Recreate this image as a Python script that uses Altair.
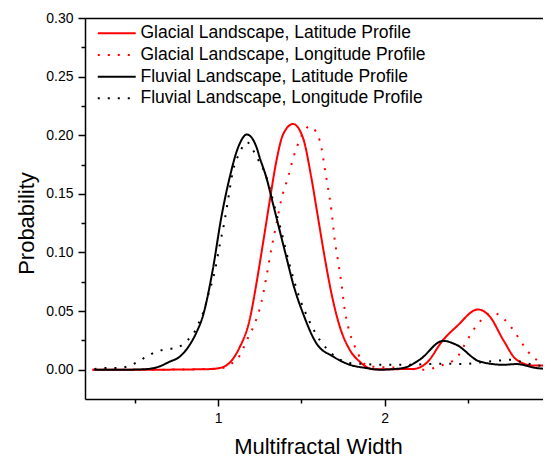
import altair as alt
import pandas as pd

series_names = [
    "Glacial Landscape, Latitude Profile",
    "Glacial Landscape, Longitude Profile",
    "Fluvial Landscape, Latitude Profile",
    "Fluvial Landscape, Longitude Profile",
]
series_colors = ["#ff0000", "#ff0000", "#000000", "#000000"]
series_dashes = [[1, 0], [2, 8], [1, 0], [2, 8]]

gl_lat_x = [0.245, 0.600, 0.949, 1.009, 1.079, 1.129, 1.189, 1.230, 1.269, 1.310, 1.350, 1.390, 1.450,
            1.510, 1.560, 1.600, 1.640, 1.681, 1.731, 1.791, 1.851, 1.931, 2.171, 2.252, 2.352, 2.432,
            2.562, 2.633, 2.713, 2.793, 2.893, 2.999]
gl_lat_y = [0.0, 0.0, 0.0005, 0.0014, 0.0075, 0.019, 0.0424, 0.0735, 0.1074, 0.1441, 0.1780, 0.2006, 0.2096,
            0.1977, 0.1638, 0.1299, 0.0960, 0.0650, 0.0367, 0.0169, 0.0068, 0.0004, 0.0006, 0.0057, 0.0254, 0.0367,
            0.0514, 0.0452, 0.0254, 0.0085, 0.0036, 0.0036]

gl_lon_x = [0.245, 0.600, 1.009, 1.069, 1.129, 1.179, 1.219, 1.260, 1.290, 1.320, 1.350, 1.380, 1.420, 1.450,
            1.490, 1.550, 1.600, 1.621, 1.640, 1.660, 1.681, 1.701, 1.720, 1.741, 1.761, 1.781, 1.821, 1.861,
            1.901, 1.931, 2.111, 2.232, 2.352, 2.432, 2.472, 2.548, 2.652, 2.713, 2.773, 2.813, 2.853, 2.913,
            2.973, 2.999]
gl_lon_y = [0.0, 0.0, 0.001, 0.0042, 0.0119, 0.0271, 0.0390, 0.0576, 0.0791, 0.1031, 0.1243, 0.1455, 0.1640, 0.1800,
            0.1960, 0.2075, 0.1995, 0.1892, 0.1723, 0.1553, 0.1356, 0.1102, 0.0932, 0.0735, 0.0508, 0.0367, 0.0198, 0.0085,
            0.0028, 0.0025, 0.0014, 0.0, 0.0042, 0.0099, 0.0191, 0.0367, 0.0486, 0.0438, 0.0339, 0.0254, 0.0169, 0.0085,
            0.0042, 0.0036]

fl_lat_x = [0.257, 0.450, 0.558, 0.648, 0.708, 0.768, 0.829, 0.871, 0.907, 0.967, 1.019, 1.069, 1.119, 1.173,
            1.230, 1.250, 1.290, 1.330, 1.370, 1.410, 1.450, 1.510, 1.590, 1.690, 1.791, 1.891, 1.971, 2.111,
            2.211, 2.352, 2.432, 2.572, 2.713, 2.793, 2.913, 2.999]
fl_lat_y = [0.0, 0.0, 0.0004, 0.0028, 0.0068, 0.0110, 0.0212, 0.0322, 0.0452, 0.0847, 0.1299, 0.1638, 0.1892, 0.2006,
            0.1900, 0.1808, 0.1638, 0.1413, 0.1186, 0.0960, 0.0735, 0.0480, 0.0226, 0.0113, 0.0042, 0.0014, 0.0, 0.0014,
            0.0085, 0.0246, 0.0212, 0.0070, 0.0042, 0.0048, 0.0014, 0.0006]

fl_lon_x = [0.257, 0.317, 0.377, 0.442, 0.504, 0.566, 0.630, 0.695, 0.756, 0.818, 0.865, 0.895, 0.919, 0.937,
            0.979, 1.009, 1.039, 1.057, 1.087, 1.129, 1.173, 1.219, 1.250, 1.280, 1.320, 1.350, 1.380, 1.400,
            1.430, 1.450, 1.490, 1.540, 1.610, 1.660, 1.791, 1.851, 1.971, 2.111, 2.352, 2.470, 2.592, 2.673,
            2.753, 2.872, 2.974]
fl_lon_y = [0.0006, 0.0014, 0.0014, 0.0023, 0.0057, 0.0108, 0.0155, 0.0175, 0.0189, 0.0254, 0.0339, 0.0438, 0.0523, 0.0621,
            0.0833, 0.1059, 0.1271, 0.1426, 0.1681, 0.1850, 0.1940, 0.1850, 0.1765, 0.1681, 0.1497, 0.1330, 0.1180, 0.1060,
            0.0890, 0.0790, 0.0608, 0.0438, 0.0254, 0.0169, 0.0057, 0.0051, 0.0042, 0.0042, 0.0051, 0.0048, 0.0065, 0.0076,
            0.0085, 0.0048, 0.0025]

x_major = [1, 2, 3]
x_minor = [0.5, 1.5, 2.5]
y_major = [0.0, 0.05, 0.10, 0.15, 0.20, 0.25, 0.30]
y_minor = [0.025, 0.075, 0.125, 0.175, 0.225, 0.275]

rows = []
for name, xs, ys in [
    (series_names[0], gl_lat_x, gl_lat_y),
    (series_names[1], gl_lon_x, gl_lon_y),
    (series_names[2], fl_lat_x, fl_lat_y),
    (series_names[3], fl_lon_x, fl_lon_y),
]:
    for i, (xv, yv) in enumerate(zip(xs, ys)):
        rows.append({"series": name, "x": xv, "y": yv, "i": i})
df = pd.DataFrame(rows)

FONT = "Liberation Sans, Arial"
# visible part of the x range: the reference is cut at the right page edge
xscale = alt.Scale(domain=[0.2, 2.952], nice=False, zero=False)
yscale = alt.Scale(domain=[-0.025, 0.30], nice=False, zero=False)

common_axis = dict(grid=False, domainColor="black", tickColor="black", labelColor="black",
                   titleColor="black", domainWidth=1.5, tickWidth=1.5, labelFont=FONT, titleFont=FONT,
                   labelFontSize=14, titleFontSize=22, titleFontWeight="normal")

legend = alt.Legend(title=None, orient="none", legendX=23, legendY=6.5, symbolType="M-4,0H4",
                    symbolSize=90, symbolStrokeWidth=2, labelFontSize=17.5, labelFont=FONT,
                    labelColor="black", labelOffset=15, rowPadding=2.7, padding=0, labelLimit=400)

lines = alt.Chart(df).mark_line(strokeWidth=2, interpolate="monotone", clip=True).encode(
    x=alt.X("x:Q", scale=xscale, axis=alt.Axis(values=x_major, format="d", title="Multifractal Width",
                                               tickSize=7, labelPadding=5, titleY=54, titleX=233,
                                               titleBaseline="alphabetic", **common_axis)),
    y=alt.Y("y:Q", scale=yscale, axis=alt.Axis(values=y_major, format=".2f", title="Probability",
                                               tickSize=7, labelPadding=5, titleX=-52, titleY=205,
                                               titleBaseline="alphabetic", **common_axis)),
    color=alt.Color("series:N", scale=alt.Scale(domain=series_names, range=series_colors), legend=legend),
    strokeDash=alt.StrokeDash("series:N", scale=alt.Scale(domain=series_names, range=series_dashes), legend=legend),
    order="i:Q",
)

minor = alt.Chart(df).mark_point(opacity=0).encode(
    x=alt.X("x:Q", scale=xscale, axis=alt.Axis(values=x_minor, labels=False, domain=False, tickSize=4,
                                               title=None, orient="bottom", **common_axis)),
    y=alt.Y("y:Q", scale=yscale, axis=alt.Axis(values=y_minor, labels=False, domain=False, tickSize=4,
                                               title=None, orient="left", **common_axis)),
)

frame_top = alt.Chart(df).mark_point(opacity=0).encode(
    x=alt.X("x:Q", scale=xscale, axis=alt.Axis(orient="top", labels=False, ticks=False, title=None,
                                               domain=True, **common_axis)),
    y=alt.Y("y:Q", scale=yscale, axis=None),
)

chart = alt.layer(lines, minor, frame_top).resolve_axis(x="independent", y="independent").properties(
    width=458, height=381,
    autosize=alt.AutoSizeParams(type="none"),
    padding={"left": 77, "top": 10, "right": 0, "bottom": 59},
).configure_view(stroke=None)

chart.save("out.html", embed_options={"renderer": "svg", "actions": False})
